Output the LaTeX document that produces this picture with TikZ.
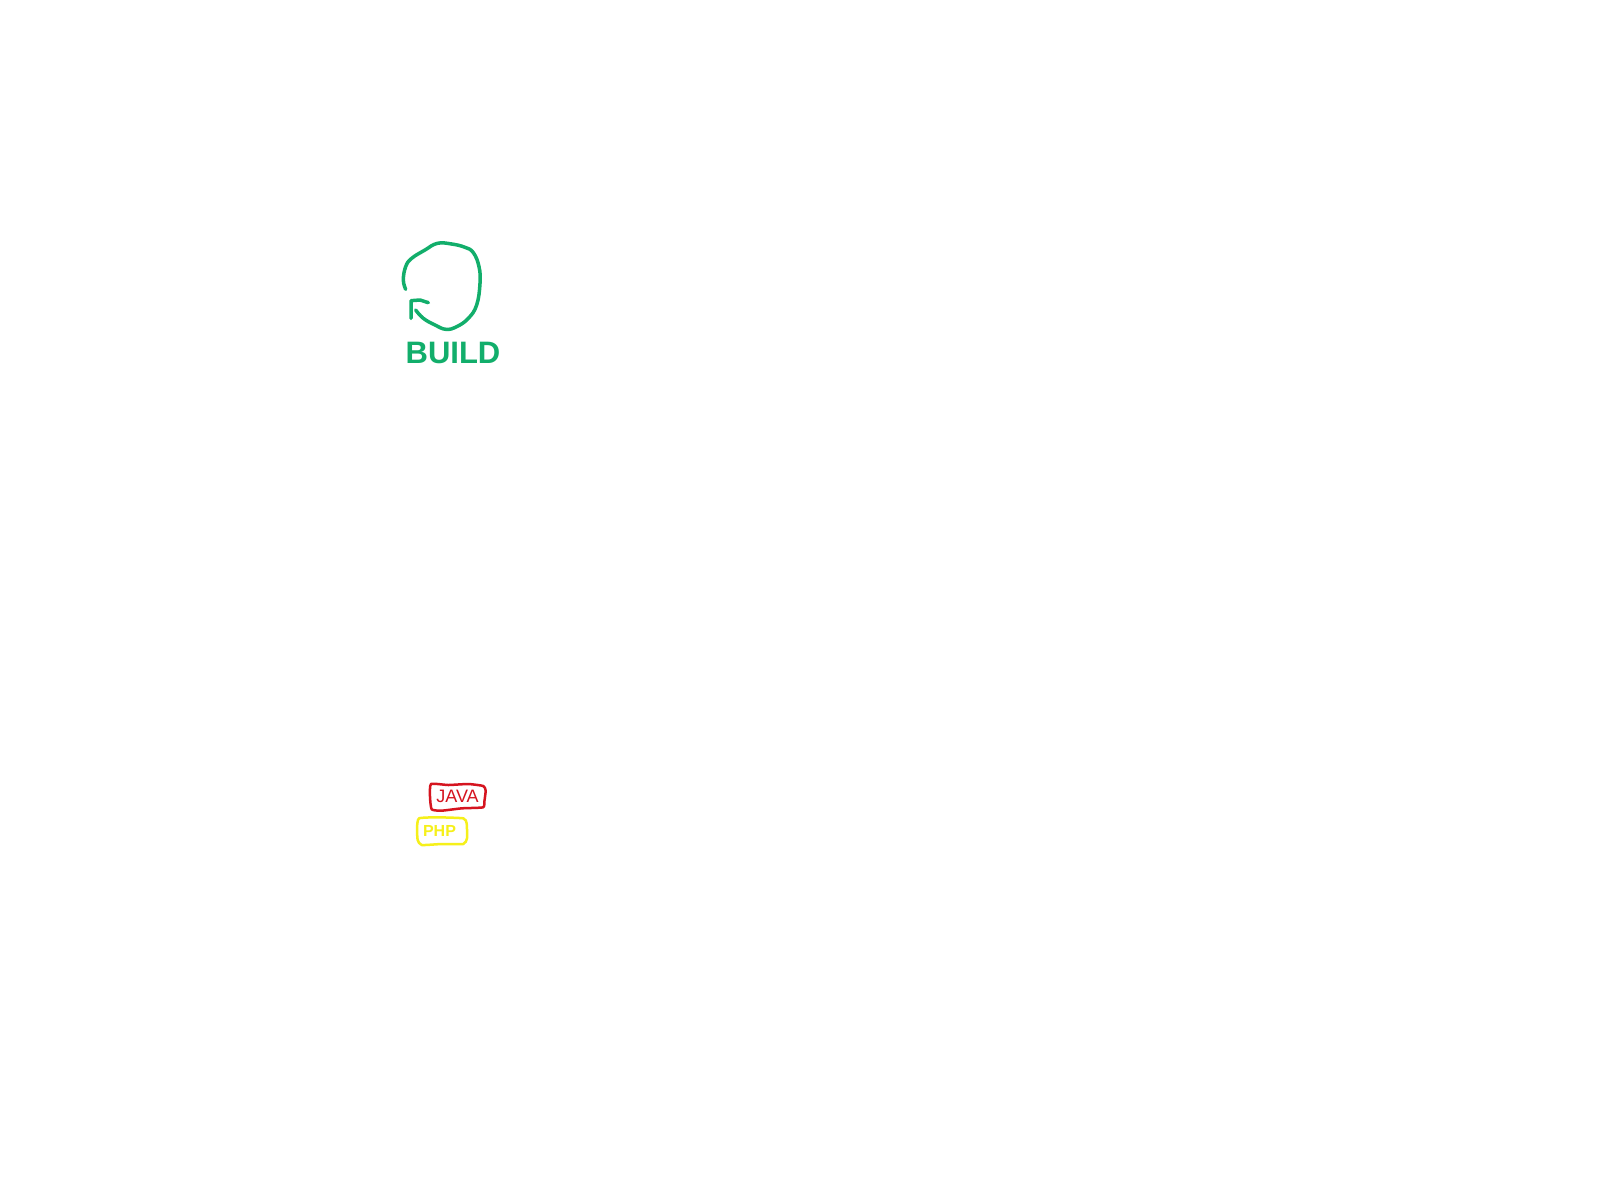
\documentclass[tikz,border=0pt]{standalone}
\usepackage{fontspec}
\setmainfont{Liberation Sans}
\definecolor{inkgreen}{HTML}{12AE6B}
\definecolor{inkred}{HTML}{D5141F}
\definecolor{inkyellow}{HTML}{F6F01A}
\tikzset{
  pen/.style={line width=#1,line cap=round,line join=round},
  greenpen/.style={pen=1.75pt,draw=inkgreen},
  redpen/.style={pen=1.25pt,draw=inkred},
  yellowpen/.style={pen=1.25pt,draw=inkyellow},
  handlabel/.style={inner sep=0pt,anchor=center}
}
\begin{document}
\begin{tikzpicture}[x=0.5pt,y=-0.5pt]
\useasboundingbox (0,0) rectangle (1600,1200);
\fill[white] (0,0) rectangle (1600,1200);
% build loop, in 3x zoom coordinates
\begin{scope}[shift={(385,230)},x=0.16667pt,y=-0.16667pt]
  \draw[greenpen] plot[smooth,tension=0.7] coordinates {(62,178) (55,150) (62,110) (80,85) (120,60) (157,40) (200,42) (240,52) (265,68) (282,110) (285,160) (275,225) (250,265) (215,290) (183,298) (150,285) (115,265) (92,240)};
  \draw[greenpen] (78,265) -- (78,212) -- (105,210) -- (130,218);
\end{scope}
\node[handlabel,text=inkgreen,font=\fontsize{15.5}{18}\selectfont\bfseries] (build) at (453,353) {BUILD};
% JAVA and PHP tags
\begin{scope}[shift={(405,770)},x=0.16667pt,y=-0.16667pt]
  \draw[redpen] plot[smooth cycle,tension=0.3] coordinates {(78,42) (130,45) (190,42) (235,48) (242,62) (238,95) (234,112) (170,115) (110,122) (80,118) (75,80)};
  \draw[yellowpen] plot[smooth cycle,tension=0.3] coordinates {(42,145) (100,142) (175,145) (185,160) (186,205) (175,222) (110,222) (50,225) (38,210) (36,175)};
\end{scope}
\node[handlabel,text=inkred,font=\fontsize{9}{10}\selectfont] (java) at (457.5,796) {JAVA};
\node[handlabel,text=inkyellow,font=\fontsize{8}{10}\selectfont\bfseries] (php) at (439.5,831) {PHP};
\end{tikzpicture}
\end{document}
